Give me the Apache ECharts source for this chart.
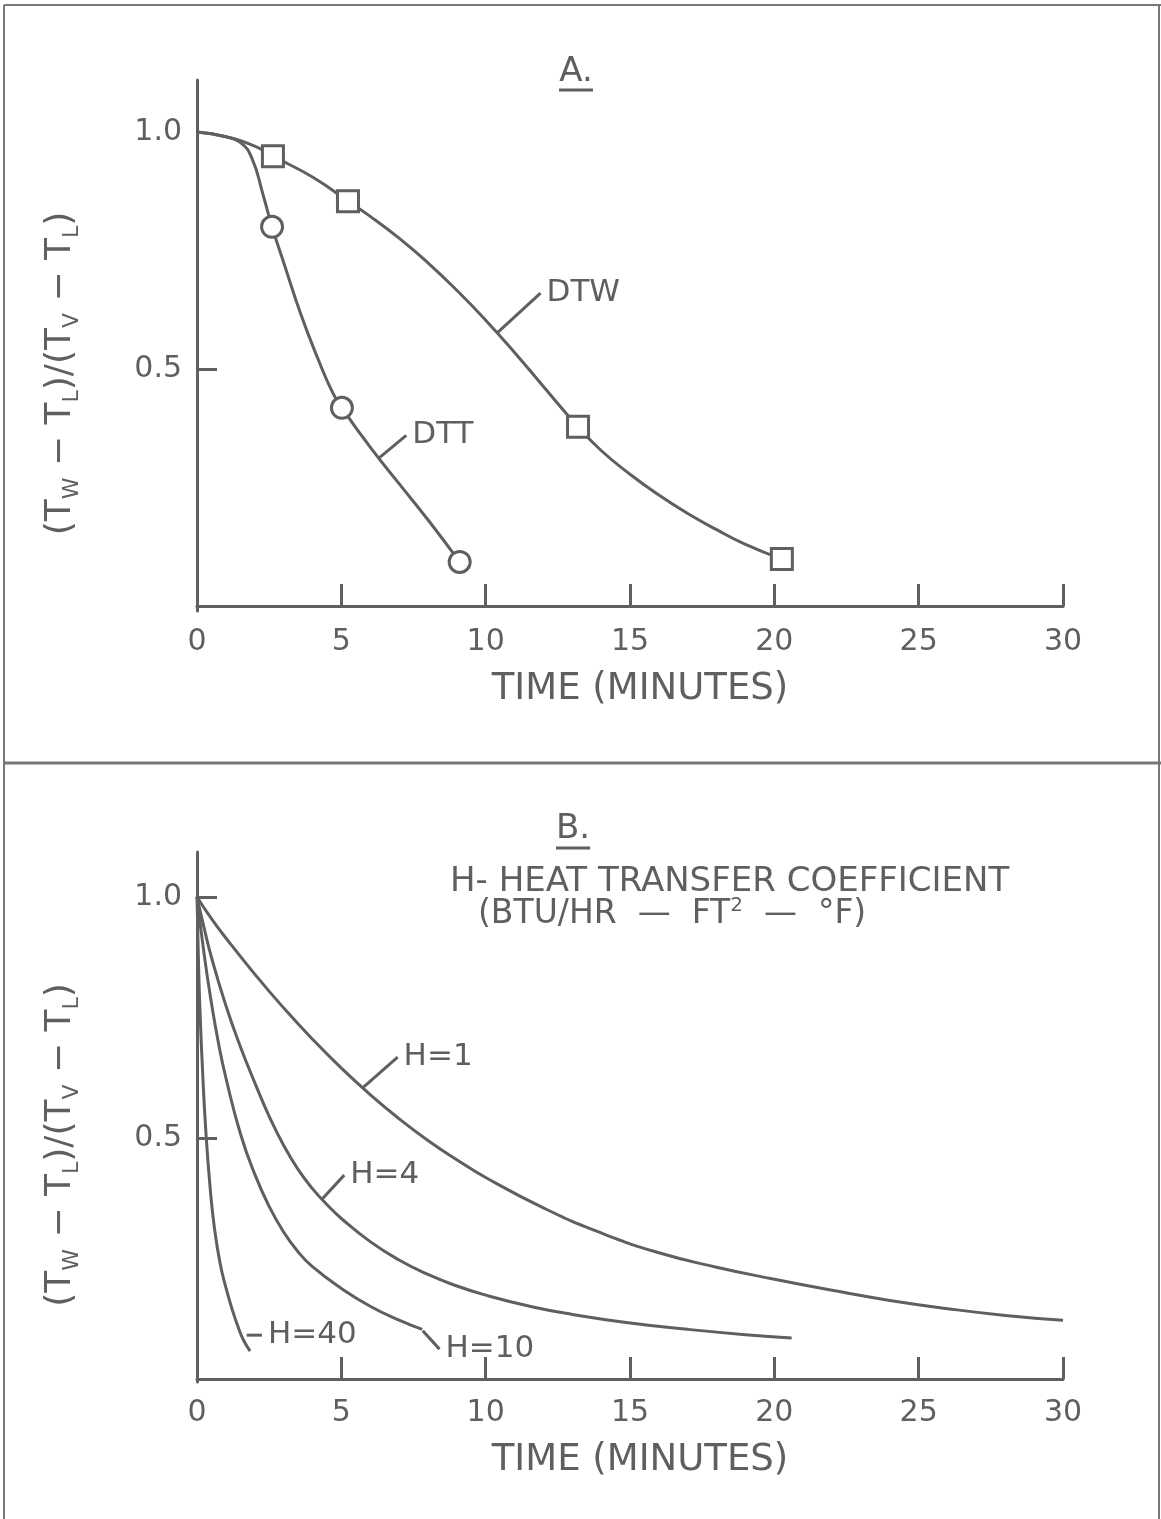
<!DOCTYPE html>
<html><head><meta charset="utf-8">
<script src="https://cdn.jsdelivr.net/npm/echarts@6/dist/echarts.min.js"></script>
<style>html,body{margin:0;padding:0;background:#fff}#c{width:1161px;height:1519px}</style>
</head><body><div id="c"></div>
<script>
// ---- axis ticks / labels ----
const xTicks = [5, 10, 15, 20, 25, 30];
const xLabels = [0, 5, 10, 15, 20, 25, 30];
const yTicksA = [0.5];
const yTicksB = [0.5, 1.0];
const yLabels = [0.5, 1.0];

// ---- Panel A ----
const dtwCurve = [[0,1.0],[1,0.99],[2,0.97],[2.63,0.949],[4,0.905],[5.23,0.854],[6,0.822],[7,0.776],[8,0.724],[9,0.666],[10,0.603],[11,0.535],[12,0.463],[13.2,0.378],[14,0.328],[15,0.278],[16,0.234],[17,0.195],[18,0.161],[19,0.13],[20.26,0.099]];
const dtwPoints = [[2.63,0.949],[5.23,0.854],[13.2,0.378],[20.26,0.099]];
const dttCurve = [[0,1.0],[1,0.99],[1.5,0.978],[1.9,0.945],[2.3,0.865],[2.6,0.80],[3.0,0.725],[3.6,0.615],[4.2,0.52],[4.7,0.45],[5.02,0.418],[6,0.335],[7,0.258],[8,0.182],[9.1,0.093]];
const dttPoints = [[2.6,0.80],[5.02,0.418],[9.1,0.093]];

// ---- Panel B ----
const h1Curve = [[0,1],[0.5,0.955],[1,0.915],[2,0.84],[3,0.77],[4,0.705],[5,0.645],[6,0.59],[7,0.54],[8,0.495],[9,0.455],[10,0.418],[12,0.355],[14,0.303],[16,0.262],[18,0.232],[20,0.207],[22,0.184],[24,0.163],[26,0.146],[28,0.132],[30,0.122]];
const h4Curve = [[0,1],[0.25,0.935],[0.5,0.875],[1,0.775],[1.5,0.69],[2,0.615],[2.5,0.545],[3,0.485],[3.5,0.435],[4,0.395],[4.5,0.362],[5,0.333],[6,0.285],[7,0.247],[8,0.217],[9,0.193],[10,0.174],[11.6,0.15],[13,0.134],[15,0.116],[17,0.103],[19,0.092],[20.6,0.085]];
const h10Curve = [[0,1],[0.25,0.88],[0.5,0.78],[0.75,0.695],[1,0.625],[1.5,0.51],[2,0.425],[2.5,0.358],[3,0.305],[3.5,0.264],[4,0.233],[5,0.188],[6,0.151],[7,0.122],[7.8,0.103]];
const h40Curve = [[0,1],[0.05,0.87],[0.1,0.77],[0.2,0.63],[0.3,0.52],[0.45,0.4],[0.6,0.315],[0.8,0.24],[1.0,0.19],[1.2,0.148],[1.4,0.112],[1.6,0.082],[1.84,0.058]];

// ---- curve annotations (data coordinates) ----
const notesA = [
  {text:'DTW', from:[10.4,0.576], to:[11.9,0.66]},
  {text:'DTT', from:[6.3,0.312], to:[7.25,0.36]}
];
const notesB = [
  {text:'H=1', from:[5.72,0.603], to:[6.95,0.668]},
  {text:'H=4', from:[4.33,0.373], to:[5.1,0.423]},
  {text:'H=10', from:[7.82,0.10], to:[8.4,0.062]},
  {text:'H=40', from:[1.72,0.091], to:[2.25,0.091]}
];

const INK = '#5f5f5f';
const FONT = 'DejaVu Sans';

const chart = echarts.init(document.getElementById('c'), null, {renderer:'canvas'});

function mkX(g){
  return {type:'value', gridIndex:g, min:0, max:30,
    name:'TIME (MINUTES)', nameLocation:'middle', nameGap:60,
    nameTextStyle:{fontFamily:FONT, fontSize:37, color:INK, padding:[0,0,0,20]},
    axisLine:{lineStyle:{color:INK, width:3}},
    axisTick:{show:true, inside:true, length:22, customValues:xTicks, lineStyle:{color:INK, width:3}},
    axisLabel:{customValues:xLabels, margin:16, fontFamily:FONT, fontSize:30, color:INK},
    splitLine:{show:false}};
}
function mkY(g, mn, mx, ticks){
  return {type:'value', gridIndex:g, min:mn, max:mx,
    name:'{p|(T}{s|W}{p| − T}{s|L}{p|)/(T}{s|V}{p| − T}{s|L}{p|)}',
    nameLocation:'middle', nameGap:114, nameRotate:90,
    nameTextStyle:{color:INK, padding:[0,56,0,0], rich:{
      p:{fontFamily:FONT, fontSize:36, color:INK, lineHeight:44, verticalAlign:'middle'},
      s:{fontFamily:FONT, fontSize:22, color:INK, lineHeight:22, verticalAlign:'bottom'}}},
    axisLine:{show:true, lineStyle:{color:INK, width:3}},
    axisTick:{show:true, inside:true, length:20, customValues:ticks, lineStyle:{color:INK, width:3}},
    axisLabel:{customValues:yLabels, margin:15, fontFamily:FONT, fontSize:30, color:INK,
      formatter:v=>v.toFixed(1)},
    splitLine:{show:false}};
}
function curve(data, g){
  return {type:'line', xAxisIndex:g, yAxisIndex:g, data:data, showSymbol:false,
    smooth:0.5, lineStyle:{color:INK, width:3}, z:2, silent:true};
}
function marks(data, g, sym){
  return {type:'scatter', xAxisIndex:g, yAxisIndex:g, data:data, symbol:sym, symbolSize:21,
    itemStyle:{color:'#fff', borderColor:INK, borderWidth:3, opacity:1}, z:5, silent:true};
}

chart.setOption({
  animation:false,
  backgroundColor:'#fff',
  grid:[
    {left:197, top:80, width:866, height:531},
    {left:197, top:852, width:866, height:530}
  ],
  xAxis:[mkX(0), mkX(1)],
  yAxis:[mkY(0,-0.0106,1.1097,yTicksA), mkY(1,-0.0062,1.0934,yTicksB)],
  series:[
    curve(dtwCurve,0), curve(dttCurve,0),
    marks(dtwPoints,0,'rect'), marks(dttPoints,0,'circle'),
    curve(h1Curve,1), curve(h4Curve,1), curve(h10Curve,1), curve(h40Curve,1)
  ]
});

// ---- graphics: frame, titles, annotations ----
const gr = [];
const lineSty = {stroke:'#777', lineWidth:2};
gr.push({type:'line', shape:{x1:4,y1:5,x2:1161,y2:5}, style:lineSty});
gr.push({type:'line', shape:{x1:4,y1:5,x2:4,y2:1519}, style:lineSty});
gr.push({type:'line', shape:{x1:1159,y1:5,x2:1159,y2:1519}, style:lineSty});
gr.push({type:'line', shape:{x1:4,y1:763,x2:1161,y2:763}, style:{stroke:'#777', lineWidth:3}});

function title(t, cx, cy, uy){
  gr.push({type:'text', x:cx, y:cy, style:{text:t, fontFamily:FONT, fontSize:34, fill:INK, align:'center', verticalAlign:'middle'}});
  gr.push({type:'line', shape:{x1:cx-17,y1:uy,x2:cx+17,y2:uy}, style:{stroke:INK, lineWidth:3}});
}
title('A.', 576, 72, 90);
title('B.', 573, 829, 848);

gr.push({type:'text', x:450, y:882, style:{text:'H- HEAT TRANSFER COEFFICIENT', fontFamily:FONT, fontSize:34, fill:INK, align:'left', verticalAlign:'middle'}});
gr.push({type:'text', x:478, y:914, style:{
  text:'{p|(BTU/HR  —  FT}{s|2}{p|  —  °F)}', align:'left', verticalAlign:'middle',
  rich:{p:{fontFamily:FONT, fontSize:33, fill:INK, lineHeight:36, verticalAlign:'middle'},
        s:{fontFamily:FONT, fontSize:20, fill:INK, lineHeight:20, verticalAlign:'top'}}}});

function notes(list, g){
  list.forEach(n=>{
    const a = chart.convertToPixel({gridIndex:g}, n.from);
    const b = chart.convertToPixel({gridIndex:g}, n.to);
    gr.push({type:'line', shape:{x1:a[0],y1:a[1],x2:b[0],y2:b[1]}, style:{stroke:INK, lineWidth:3}, z:10});
    gr.push({type:'text', x:b[0]+6, y:b[1], style:{text:n.text, fontFamily:FONT, fontSize:31, fill:INK, align:'left', verticalAlign:'middle'}, z:10});
  });
}
notes(notesA, 0);
notes(notesB, 1);

chart.setOption({graphic:gr});
</script>
</body></html>
